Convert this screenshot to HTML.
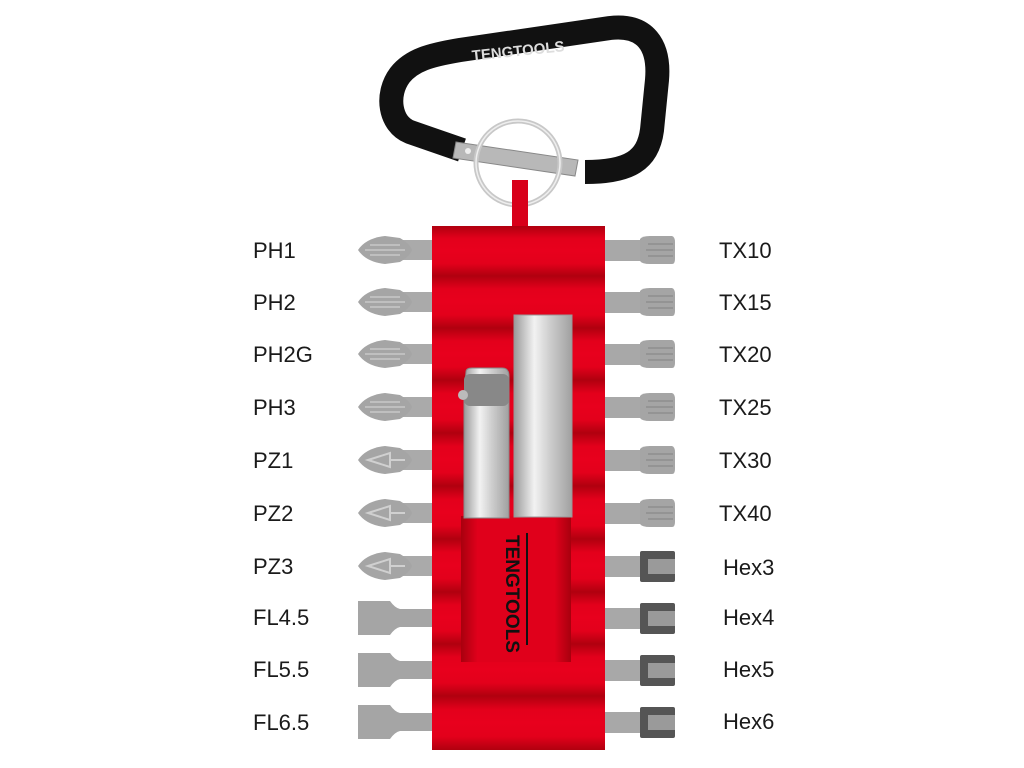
<!DOCTYPE html>
<html><head><meta charset="utf-8"><style>
html,body{margin:0;padding:0;background:#fff;width:1024px;height:768px;overflow:hidden}
svg{display:block}
text{font-family:"Liberation Sans",Arial,sans-serif;fill:#1a1a1a}
</style></head><body>
<svg width="1024" height="768" viewBox="0 0 1024 768" xmlns="http://www.w3.org/2000/svg">
<defs>
<linearGradient id="row" x1="0" y1="0" x2="0" y2="1">
<stop offset="0" stop-color="#b0000f"/><stop offset="0.25" stop-color="#e3001b"/><stop offset="0.5" stop-color="#e8001d"/><stop offset="0.75" stop-color="#e3001b"/><stop offset="1" stop-color="#b0000f"/>
</linearGradient>
<linearGradient id="sock" x1="0" y1="0" x2="1" y2="0">
<stop offset="0" stop-color="#9a9a9a"/><stop offset="0.35" stop-color="#f2f2f2"/><stop offset="0.6" stop-color="#d0d0d0"/><stop offset="1" stop-color="#a0a0a0"/>
</linearGradient>
<linearGradient id="rec" x1="0" y1="0" x2="1" y2="0">
<stop offset="0" stop-color="#a8000e"/><stop offset="0.15" stop-color="#e0001b"/><stop offset="0.85" stop-color="#e0001b"/><stop offset="1" stop-color="#a8000e"/>
</linearGradient>
<linearGradient id="bit" x1="0" y1="0" x2="0" y2="1">
<stop offset="0" stop-color="#9c9c9c"/><stop offset="0.5" stop-color="#bdbdbd"/><stop offset="1" stop-color="#8e8e8e"/>
</linearGradient>
</defs>

<!-- carabiner -->
<path d="M462,150 L410,132 C390,124 385,95 400,75 C412,60 430,55 460,50 L610,28 C645,24 660,45 657,80 L652,130 C648,160 630,172 585,172" fill="none" stroke="#111" stroke-width="24" stroke-linejoin="round"/>
<text x="518" y="56" font-size="15" font-weight="bold" style="fill:#ddd" transform="rotate(-6 518 50)" text-anchor="middle">TENGTOOLS</text>
<path d="M456,142 L578,160 L575,176 L453,158 Z" fill="#b8b8b8" stroke="#888" stroke-width="1"/>
<circle cx="468" cy="151" r="3" fill="#eee"/>
<circle cx="518" cy="163" r="42" fill="none" stroke="#c8c8c8" stroke-width="5"/>
<circle cx="518" cy="163" r="42" fill="none" stroke="#eee" stroke-width="1.5"/>
<rect x="512" y="180" width="16" height="52" fill="#d8001a"/>

<!-- red holder -->
<rect x="432" y="226" width="173" height="524" fill="#e3001b"/>
<rect x="432" y="226" width="173" height="50" fill="url(#row)"/>
<rect x="432" y="276" width="173" height="52" fill="url(#row)"/>
<rect x="432" y="328" width="173" height="52" fill="url(#row)"/>
<rect x="432" y="380" width="173" height="53" fill="url(#row)"/>
<rect x="432" y="433" width="173" height="53" fill="url(#row)"/>
<rect x="432" y="486" width="173" height="53" fill="url(#row)"/>
<rect x="432" y="539" width="173" height="53" fill="url(#row)"/>
<rect x="432" y="592" width="173" height="52" fill="url(#row)"/>
<rect x="432" y="644" width="173" height="52" fill="url(#row)"/>
<rect x="432" y="696" width="173" height="54" fill="url(#row)"/>
<rect x="461" y="516" width="110" height="146" fill="url(#rec)"/>

<!-- sockets -->
<rect x="514" y="315" width="58" height="202" fill="url(#sock)" stroke="#999"/>
<path d="M466,372 Q466,368 472,368 L502,368 Q509,368 509,376 L509,518 L464,518 L464,395 Z" fill="url(#sock)" stroke="#888"/>
<rect x="464" y="374" width="45" height="32" rx="6" fill="#888"/>
<circle cx="463" cy="395" r="5" fill="#bbb"/>
<text x="0" y="0" font-size="19" font-weight="bold" style="fill:#111" transform="translate(506,535) rotate(90)">TENGTOOLS</text>
<line x1="527" y1="533" x2="527" y2="645" stroke="#111" stroke-width="2"/>

<!-- left bits -->
<g>
<g id="ph">
<rect x="395" y="240" width="37" height="20" fill="#aaa"/>
<path d="M358,250 Q366,238 385,236 L400,238 Q410,244 412,250 Q410,256 400,262 L385,264 Q366,262 358,250 Z" fill="#a5a5a5"/>
<path d="M365,250 L405,250 M370,245 L400,245 M370,255 L400,255" stroke="#c8c8c8" stroke-width="1.5"/>
</g>
<use href="#ph" y="52"/><use href="#ph" y="104"/><use href="#ph" y="157"/>
<g id="pz">
<rect x="395" y="450" width="37" height="20" fill="#aaa"/>
<path d="M358,460 Q366,448 385,446 L400,448 Q410,454 412,460 Q410,466 400,472 L385,474 Q366,472 358,460 Z" fill="#a5a5a5"/>
<path d="M368,460 L390,453 L390,467 Z M390,460 L405,460" fill="none" stroke="#d0d0d0" stroke-width="2"/>
</g>
<use href="#pz" y="53"/><use href="#pz" y="106"/>
<g id="fl">
<path d="M358,601 L390,601 Q395,608 400,609 L432,609 L432,627 L400,627 Q395,628 390,635 L358,635 Z" fill="#a5a5a5"/>
</g>
<use href="#fl" y="52"/><use href="#fl" y="104"/>
</g>

<!-- right bits -->
<g id="tx">
<rect x="605" y="240" width="40" height="21" fill="#a8a8a8"/>
<path d="M640,239 Q642,236 650,236 L672,236 Q675,237 675,242 L675,259 Q675,264 672,264 L650,264 Q642,264 640,261 Z" fill="#a5a5a5"/>
<path d="M648,244 L673,244 M646,250 L673,250 M648,256 L673,256" stroke="#8a8a8a" stroke-width="1.2"/>
</g>
<use href="#tx" y="52"/><use href="#tx" y="104"/><use href="#tx" y="157"/><use href="#tx" y="210"/><use href="#tx" y="263"/>
<g id="hx">
<rect x="605" y="556" width="45" height="21" fill="#a8a8a8"/>
<rect x="640" y="551" width="35" height="31" rx="2" fill="#555"/>
<rect x="648" y="559" width="27" height="15" fill="#9a9a9a"/>
</g>
<use href="#hx" y="52"/><use href="#hx" y="104"/><use href="#hx" y="156"/>

<!-- labels -->
<g font-size="22">
<text x="253" y="258">PH1</text>
<text x="253" y="310">PH2</text>
<text x="253" y="362">PH2G</text>
<text x="253" y="415">PH3</text>
<text x="253" y="468">PZ1</text>
<text x="253" y="521">PZ2</text>
<text x="253" y="574">PZ3</text>
<text x="253" y="625">FL4.5</text>
<text x="253" y="677">FL5.5</text>
<text x="253" y="730">FL6.5</text>
<text x="719" y="258">TX10</text>
<text x="719" y="310">TX15</text>
<text x="719" y="362">TX20</text>
<text x="719" y="415">TX25</text>
<text x="719" y="468">TX30</text>
<text x="719" y="521">TX40</text>
<text x="723" y="575">Hex3</text>
<text x="723" y="625">Hex4</text>
<text x="723" y="677">Hex5</text>
<text x="723" y="729">Hex6</text>
</g>
</svg>
</body></html>
